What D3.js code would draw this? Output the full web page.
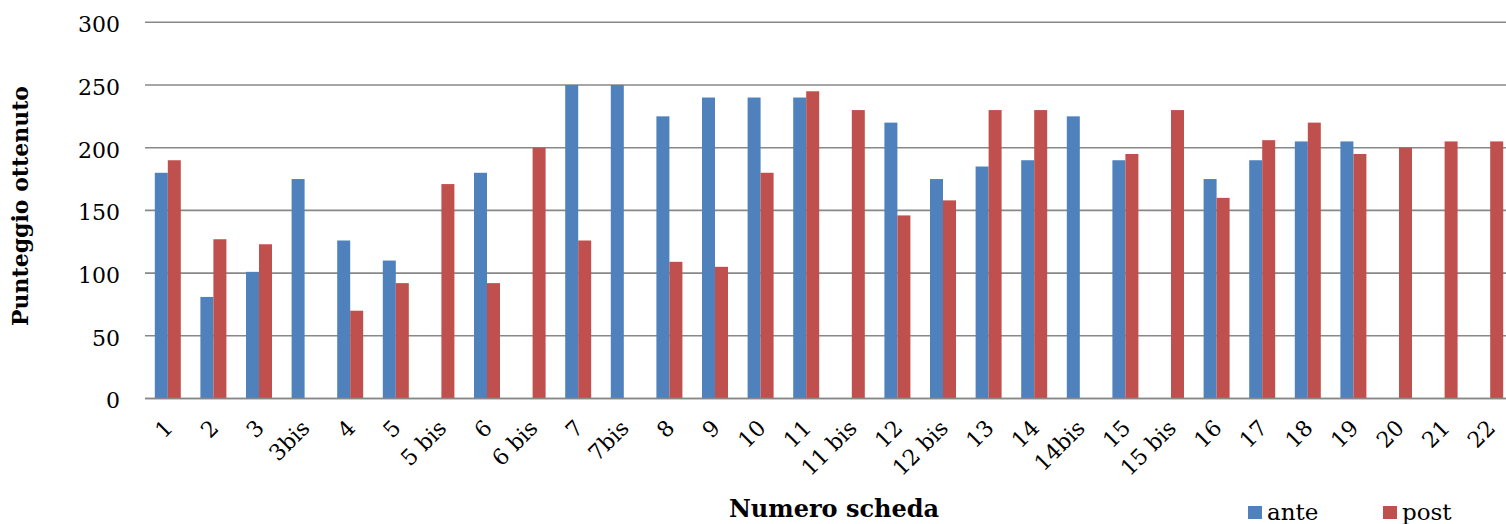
<!DOCTYPE html>
<html>
<head>
<meta charset="utf-8">
<script src="https://cdn.jsdelivr.net/npm/d3@7"></script>
<style>
  html, body { margin: 0; padding: 0; background: #fff; }
  svg { display: block; }
</style>
</head>
<body>
<svg id="chart" width="1506" height="524"></svg>
<script>
// Schede valutate (asse delle categorie)
const categories = ["1", "2", "3", "3bis", "4", "5", "5 bis", "6", "6 bis", "7", "7bis",
  "8", "9", "10", "11", "11 bis", "12", "12 bis", "13", "14", "14bis", "15", "15 bis",
  "16", "17", "18", "19", "20", "21", "22"];

// Punteggi prima (ante) e dopo (post); null = scheda senza punteggio
const ante = [180, 81, 101, 175, 126, 110, null, 180, null, 250, 250,
  225, 240, 240, 240, null, 220, 175, 185, 190, 225, 190, null,
  175, 190, 205, 205, null, null, null];
const post = [190, 127, 123, null, 70, 92, 171, 92, 200, 126, null,
  109, 105, 180, 245, 230, 146, 158, 230, 230, null, 195, 230,
  160, 206, 220, 195, 200, 205, 205];

const seriesNames = ["ante", "post"];
const seriesColors = ["#4F81BD", "#C0504D"];
const yTicks = [0, 50, 100, 150, 200, 250, 300];

const svg = d3.select("#chart");
const plotLeft = 145, plotRight = 1513, plotTop = 22.3, plotBottom = 398.5;

const x0 = d3.scaleBand().domain(categories).range([plotLeft, plotRight])
  .paddingInner(0.43).paddingOuter(0.215);
const x1 = d3.scaleBand().domain(seriesNames).range([0, x0.bandwidth()]);
const y = d3.scaleLinear().domain([0, 300]).range([plotBottom, plotTop]);
const color = d3.scaleOrdinal().domain(seriesNames).range(seriesColors);

// Griglia orizzontale
svg.append("g")
  .selectAll("line")
  .data(yTicks)
  .join("line")
  .attr("x1", plotLeft).attr("x2", 1506)
  .attr("y1", d => y(d)).attr("y2", d => y(d))
  .attr("stroke", "#888")
  .attr("stroke-width", 1.6);

// Etichette asse Y
svg.append("g")
  .selectAll("text")
  .data(yTicks)
  .join("text")
  .attr("x", 120)
  .attr("y", d => y(d))
  .attr("dy", "0.45em")
  .attr("text-anchor", "end")
  .attr("font-family", "DejaVu Serif")
  .attr("font-size", 22)
  .attr("fill", "#000")
  .text(d => d);

// Barre
const rows = categories.map((c, i) => ({ cat: c, values: [ante[i], post[i]] }));
svg.append("g")
  .selectAll("g")
  .data(rows)
  .join("g")
  .attr("transform", d => `translate(${x0(d.cat)},0)`)
  .selectAll("rect")
  .data(d => d.values.map((v, k) => ({ key: seriesNames[k], value: v }))
    .filter(e => e.value !== null))
  .join("rect")
  .attr("x", d => x1(d.key))
  .attr("width", x1.bandwidth())
  .attr("y", d => y(d.value))
  .attr("height", d => y(0) - y(d.value))
  .attr("fill", d => color(d.key));

// Linea di base
svg.append("line")
  .attr("x1", plotLeft).attr("x2", 1506)
  .attr("y1", y(0)).attr("y2", y(0))
  .attr("stroke", "#888").attr("stroke-width", 1.6);

// Etichette asse X ruotate
svg.append("g")
  .selectAll("text")
  .data(categories)
  .join("text")
  .attr("transform", d => `translate(${x0(d) + x0.bandwidth() / 2 + 1},424) rotate(-45)`)
  .attr("dy", "0.35em")
  .attr("text-anchor", "end")
  .attr("font-family", "DejaVu Serif")
  .attr("font-size", 22)
  .attr("fill", "#000")
  .text(d => d);

// Titoli degli assi
svg.append("text")
  .attr("transform", "translate(28,206) rotate(-90)")
  .attr("text-anchor", "middle")
  .attr("font-family", "DejaVu Serif")
  .attr("font-weight", "bold")
  .attr("font-size", 22)
  .text("Punteggio ottenuto");

svg.append("text")
  .attr("x", 834).attr("y", 517)
  .attr("text-anchor", "middle")
  .attr("font-family", "DejaVu Serif")
  .attr("font-weight", "bold")
  .attr("font-size", 24)
  .text("Numero scheda");

// Legenda
const legendX = [1248, 1383];
const legend = svg.append("g")
  .selectAll("g")
  .data(seriesNames)
  .join("g")
  .attr("transform", (d, i) => `translate(${legendX[i]},506)`);
legend.append("rect")
  .attr("width", 14).attr("height", 13)
  .attr("fill", d => color(d));
legend.append("text")
  .attr("x", 19).attr("y", 14)
  .attr("font-family", "DejaVu Serif")
  .attr("font-size", 23)
  .text(d => d);
</script>
</body>
</html>
